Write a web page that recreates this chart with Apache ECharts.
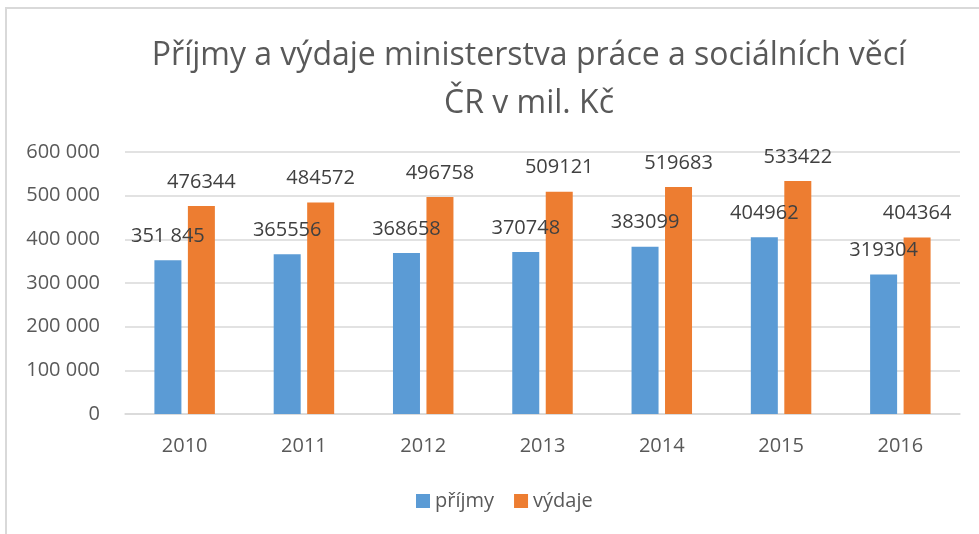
<!DOCTYPE html>
<html>
<head>
<meta charset="utf-8">
<script src="https://cdn.jsdelivr.net/npm/echarts@6/dist/echarts.min.js"></script>
<style>
  html, body { margin: 0; padding: 0; background: #fff; }
  #main { position: absolute; left: 0; top: 0; width: 979px; height: 534px; }
  #frame { position: absolute; left: 5px; top: 7px; width: 980px; height: 540px;
           border-left: 2px solid #d9d9d9; border-top: 2px solid #d9d9d9; pointer-events: none; }
</style>
</head>
<body>
<div id="main"></div>
<div id="frame"></div>
<script>
var years = ['2010', '2011', '2012', '2013', '2014', '2015', '2016'];
var prijmy = [351845, 365556, 368658, 370748, 383099, 404962, 319304];
var vydaje = [476344, 484572, 496758, 509121, 519683, 533422, 404364];
// popisky tak, jak jsou v grafu (první má mezeru)
var prijmyLabels = ['351 845', '365556', '368658', '370748', '383099', '404962', '319304'];
var yTicks = [0, 100000, 200000, 300000, 400000, 500000, 600000];

var font = 'Open Sans, Noto Sans, sans-serif';

function fmtTick(v){
  return String(v).replace(/\B(?=(\d{3})+(?!\d))/g, ' ');
}

var myChart = echarts.init(document.getElementById('main'));

var option = {
  backgroundColor: '#fff',
  animation: false,
  textStyle: { fontFamily: font },
  title: {
    text: 'Příjmy a výdaje ministerstva práce a sociálních věcí\nČR v mil. Kč',
    left: 524,
    top: 27,
    textAlign: 'center',
    textStyle: { fontSize: 32, fontWeight: 'normal', color: '#595959', lineHeight: 48, fontFamily: font }
  },
  legend: {
    data: ['příjmy', 'výdaje'],
    left: 411,
    top: 486,
    itemWidth: 14,
    itemHeight: 14,
    itemGap: 20,
    icon: 'rect',
    textStyle: { fontSize: 20, color: '#595959', fontFamily: font }
  },
  grid: { left: 125, right: 19, top: 152, bottom: 120 },
  xAxis: {
    type: 'category',
    data: years,
    axisLine: { lineStyle: { color: '#d9d9d9', width: 1.5 } },
    axisTick: { show: false },
    axisLabel: { fontSize: 20, color: '#595959', margin: 22 }
  },
  yAxis: {
    type: 'value',
    min: yTicks[0],
    max: yTicks[yTicks.length - 1],
    interval: 100000,
    axisLine: { show: false },
    axisTick: { show: false },
    splitLine: { lineStyle: { color: '#d9d9d9', width: 1.5 } },
    axisLabel: { fontSize: 20, color: '#595959', margin: 25, formatter: fmtTick }
  },
  series: [
    {
      name: 'příjmy',
      type: 'bar',
      data: prijmy,
      barWidth: 27,
      barGap: '24%',
      itemStyle: { color: '#5b9bd5' },
      label: {
        show: true, position: 'top', distance: 14,
        fontSize: 20, color: '#404040',
        formatter: function(p){ return prijmyLabels[p.dataIndex]; }
      }
    },
    {
      name: 'výdaje',
      type: 'bar',
      data: vydaje,
      barWidth: 27,
      itemStyle: { color: '#ed7d31' },
      label: { show: true, position: 'top', distance: 14, fontSize: 20, color: '#404040' }
    }
  ]
};

myChart.setOption(option);
</script>
</body>
</html>
